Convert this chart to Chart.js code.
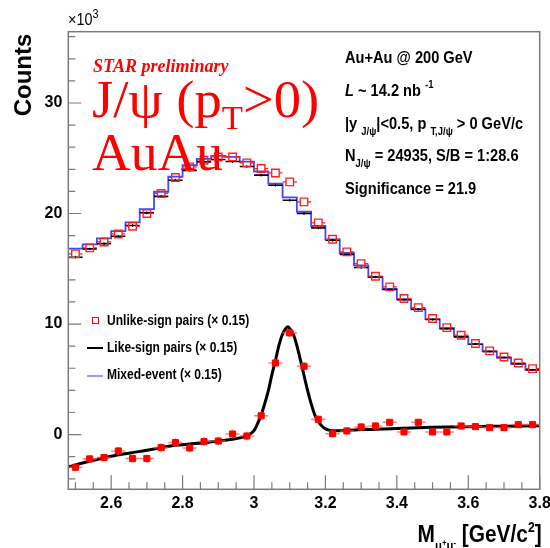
<!DOCTYPE html>
<html><head><meta charset="utf-8">
<script src="https://cdn.jsdelivr.net/npm/chart.js@4.4.1/dist/chart.umd.min.js"></script>
<style>
html,body{margin:0;padding:0;background:#fff;}
#wrap{position:relative;width:550px;height:548px;overflow:hidden;background:#fff;}
canvas{position:absolute;left:0;top:0;}
.t{position:absolute;white-space:nowrap;line-height:1;}
.hb{font-family:'Liberation Sans',Arial,sans-serif;font-weight:bold;color:#000;}
.hr{font-family:'Liberation Sans',Arial,sans-serif;color:#000;}
.tr{font-family:'Liberation Serif','Times New Roman',serif;color:#ff0000;}
.n{transform:scaleX(0.86);transform-origin:left top;}
.sb{font-size:11px;position:relative;top:6px;}
.sp{font-size:11px;position:relative;top:-8px;}
.lg{position:absolute;}
</style></head>
<body><div id="wrap"><canvas id="c" width="550" height="548"></canvas>

<div class="t hr" style="left:68px;top:12px;font-size:16px;transform:scaleX(0.9);transform-origin:left top">&#215;10<span style="font-size:12px;position:relative;top:-7px">3</span></div>
<div class="t" style="left:23px;top:75px;transform:translate(-50%,-50%) rotate(-90deg);font-family:'Liberation Sans',Arial,sans-serif;font-weight:bold;font-size:24px;color:#000">Counts</div>
<div class="t hb" style="right:8px;top:522px;font-size:24px;transform:scaleX(0.87);transform-origin:right top">M<span style="font-size:13px;position:relative;top:8px">&#956;<span style="font-size:9px;position:relative;top:-4px">+</span>&#956;<span style="font-size:9px;position:relative;top:-4px">-</span></span> [GeV/c<span style="font-size:14px;position:relative;top:-10px">2</span>]</div>

<div class="t tr" style="left:93px;top:57px;font-size:18px;font-weight:bold;font-style:italic">STAR preliminary</div>
<div class="t tr" style="left:92px;top:74px;font-size:52px;transform:scaleX(1.05);transform-origin:left top">J/&#968; (p<span style="font-size:33px;position:relative;top:12px">T</span>&gt;0)</div>
<div class="t tr" style="left:92px;top:127px;font-size:52px;transform:scaleX(1.03);transform-origin:left top">AuAu</div>

<div class="t hb n" style="left:345px;top:49px;font-size:17px">Au+Au @ 200 GeV</div>
<div class="t hb n" style="left:345px;top:82px;font-size:17px"><i>L</i> ~ 14.2 nb <span class="sp">-1</span></div>
<div class="t hb n" style="left:345px;top:115px;font-size:17px">|y <span class="sb">J/&#968;</span>|&lt;0.5, p <span class="sb">T,J/&#968;</span> &gt; 0 GeV/c</div>
<div class="t hb n" style="left:345px;top:147px;font-size:17px">N<span class="sb">J/&#968;</span> = 24935, S/B = 1:28.6</div>
<div class="t hb n" style="left:345px;top:180px;font-size:17px">Significance = 21.9</div>

<div class="lg" style="left:92px;top:317px;width:5px;height:5px;border:1.5px solid #ff0000"></div>
<div class="t hb n" style="left:107px;top:313px;font-size:14px">Unlike-sign pairs (&#215; 0.15)</div>
<div class="lg" style="left:87px;top:347px;width:16px;height:1.5px;background:#000"></div>
<div class="t hb n" style="left:107px;top:340px;font-size:14px">Like-sign pairs (&#215; 0.15)</div>
<div class="lg" style="left:87px;top:375px;width:16px;height:2px;background:#9999ff"></div>
<div class="t hb n" style="left:107px;top:367px;font-size:14px">Mixed-event (&#215; 0.15)</div>
</div>
<script>
// ---- data (values in units of 10^3 counts) ----
const binCenters = [2.50,2.54,2.58,2.62,2.66,2.70,2.74,2.78,2.82,2.86,2.90,2.94,2.98,3.02,3.06,3.10,3.14,3.18,3.22,3.26,3.30,3.34,3.38,3.42,3.46,3.50,3.54,3.58,3.62,3.66,3.70,3.74,3.78];
const binHalfWidth = 0.02;
const unlikeSign = [16.35,16.89,17.43,18.15,18.85,20.0,21.81,23.26,24.22,24.82,25.12,25.12,24.58,24.07,23.67,22.86,21.05,19.15,17.67,16.53,15.47,14.33,13.36,12.31,11.49,10.5,9.68,8.99,8.24,7.57,7.02,6.48,5.97];
const likeSign = [16.05,16.8,17.28,17.95,18.91,20.06,21.55,23.01,23.9,24.67,24.89,24.7,24.25,23.47,22.56,21.2,20.0,18.7,17.58,16.29,15.11,14.26,13.12,12.21,11.34,10.41,9.59,8.84,8.2,7.52,6.97,6.42,5.86];
const likeSignErr = [0.12,0.12,0.12,0.12,0.12,0.13,0.13,0.13,0.13,0.13,0.13,0.13,0.13,0.13,0.13,0.13,0.13,0.12,0.12,0.12,0.12,0.11,0.11,0.11,0.11,0.1,0.1,0.1,0.1,0.09,0.09,0.09,0.09];
const mixedEvent = [16.83,17.2,17.76,18.4,19.2,20.4,21.97,23.33,24.38,24.95,25.21,25.12,24.7,23.8,22.7,21.47,20.16,18.87,17.66,16.43,15.3,14.24,13.17,12.24,11.33,10.44,9.62,8.88,8.18,7.52,6.97,6.4,5.86];
const signal = [-2.96,-2.2,-2.08,-1.48,-2.17,-2.17,-1.18,-0.72,-1.21,-0.63,-0.58,0.05,-0.13,1.7,6.48,9.2,6.18,1.38,0.08,0.33,0.69,0.78,1.11,0.24,1.11,0.24,0.24,0.78,0.72,0.63,0.63,0.9,0.9];
const signalErr = [0.35,0.35,0.35,0.36,0.36,0.37,0.38,0.38,0.39,0.39,0.39,0.39,0.39,0.39,0.38,0.38,0.37,0.36,0.35,0.35,0.34,0.33,0.32,0.31,0.3,0.3,0.29,0.28,0.27,0.27,0.26,0.25,0.25];
const fitX = [2.48,2.52,2.56,2.60,2.65,2.70,2.74,2.78,2.82,2.86,2.90,2.94,2.96,2.98,3.00,3.01,3.02,3.03,3.04,3.05,3.06,3.07,3.08,3.09,3.095,3.10,3.11,3.12,3.13,3.14,3.15,3.16,3.17,3.18,3.19,3.20,3.21,3.22,3.26,3.30,3.40,3.50,3.60,3.70,3.80];
const fitY = [-2.93,-2.57,-2.25,-1.96,-1.68,-1.42,-1.18,-0.97,-0.85,-0.73,-0.58,-0.43,-0.3,-0.1,0.35,1.0,1.75,2.8,3.95,5.4,6.7,8.1,9.1,9.65,9.75,9.6,9.1,8.05,6.75,5.35,4.0,2.8,1.8,1.2,0.78,0.52,0.4,0.35,0.38,0.45,0.55,0.66,0.72,0.76,0.8];
const xTickValues = [2.6,2.8,3.0,3.2,3.4,3.6,3.8];
const xTickLabels = ['2.6','2.8','3','3.2','3.4','3.6','3.8'];
const yTickValues = [0,10,20,30];
const yTickLabels = ['0','10','20','30'];
const xRange = [2.48, 3.80];
const yRange = [-4.95, 36.45];

// ---- helpers building library tables ----
const toPoints = (vals) => binCenters.map((c,i)=>({x:c, y:vals[i]}));
const toSteps = (vals) => { const p=[]; binCenters.forEach((c,i)=>{ p.push({x:c-binHalfWidth,y:vals[i]}); p.push({x:c+binHalfWidth,y:vals[i]}); }); return p; };
const halfBinPx = (ctx) => { const s = ctx.chart.scales && ctx.chart.scales.x; if(!s) return 7; return Math.abs(s.getPixelForValue(binCenters[0]+binHalfWidth)-s.getPixelForValue(binCenters[0]-binHalfWidth))/2; };

const FONT = "'Liberation Sans',Arial,sans-serif";

const errorBars = {
  id:'errorBars',
  beforeDatasetDraw(chart, args){
    const ds = chart.data.datasets[args.index];
    if(!ds.errX && !ds.errY) return;
    const {ctx, chartArea:a, scales:{x,y}} = chart;
    ctx.save();
    ctx.beginPath(); ctx.rect(a.left,a.top,a.right-a.left,a.bottom-a.top); ctx.clip();
    ctx.strokeStyle = ds.errColor; ctx.lineWidth = ds.errWidth || 1;
    const gap = ds.errGap || 0;
    ds.data.forEach((d,i)=>{
      const px = x.getPixelForValue(d.x), py = y.getPixelForValue(d.y);
      ctx.beginPath();
      if(ds.errX){
        const l = x.getPixelForValue(d.x-ds.errX), r = x.getPixelForValue(d.x+ds.errX);
        ctx.moveTo(l,py); ctx.lineTo(px-gap,py); ctx.moveTo(px+gap,py); ctx.lineTo(r,py);
      }
      if(ds.errY){
        const t = y.getPixelForValue(d.y+ds.errY[i]), b = y.getPixelForValue(d.y-ds.errY[i]);
        ctx.moveTo(px,t); ctx.lineTo(px,b);
      }
      ctx.stroke();
    });
    ctx.restore();
  }
};

const frameTicks = {
  id:'frameTicks',
  afterDatasetsDraw(chart){
    const {ctx, chartArea:a, scales:{x,y}} = chart;
    ctx.save();
    ctx.strokeStyle = '#7a7a7a'; ctx.lineWidth = 1.5;
    ctx.strokeRect(a.left,a.top,a.right-a.left,a.bottom-a.top);
    ctx.lineWidth = 1.2;
    ctx.beginPath();
    for(let i=Math.ceil(x.min*20); i<=Math.floor(x.max*20+1e-6); i++){
      const v = i/20, px = x.getPixelForValue(v);
      const major = (i % 4) === 0;
      ctx.moveTo(px,a.bottom); ctx.lineTo(px,a.bottom-(major?14:7));
    }
    for(let v=Math.ceil(y.min/2)*2; v<=y.max; v+=2){
      const py = y.getPixelForValue(v);
      const major = (v % 10) === 0;
      ctx.moveTo(a.left,py); ctx.lineTo(a.left+(major?13:7),py);
    }
    ctx.stroke();
    ctx.restore();
  }
};

new Chart(document.getElementById('c'), {
  type:'scatter',
  data:{ datasets:[
    { label:'Signal', data:toPoints(signal), order:1,
      pointStyle:'rect', pointRadius:4.3, pointHoverRadius:4.3, pointBackgroundColor:'#ff0000', pointBorderColor:'#ff0000', pointBorderWidth:1,
      errX:binHalfWidth, errY:signalErr, errColor:'rgba(255,90,90,0.75)', errWidth:1.6 },
    { label:'Fit', data:fitX.map((v,i)=>({x:v,y:fitY[i]})), order:2, showLine:true,
      borderColor:'#000', borderWidth:3, pointRadius:0, cubicInterpolationMode:'monotone', fill:false },
    { label:'Unlike-sign pairs (\u00d7 0.15)', data:toPoints(unlikeSign), order:3,
      pointStyle:'rect', pointRadius:5.3, pointHoverRadius:5.3, pointBackgroundColor:'rgba(0,0,0,0)', pointBorderColor:'#ff2020', pointBorderWidth:1.4,
      errX:binHalfWidth, errGap:3.8, errColor:'#ff2020', errWidth:1.2 },
    { label:'Like-sign pairs (\u00d7 0.15)', data:toPoints(likeSign), order:4,
      pointStyle:'line', pointRadius:halfBinPx, pointHoverRadius:halfBinPx, pointBorderColor:'#000', pointBorderWidth:1.6,
      errY:likeSignErr, errColor:'#000', errWidth:1 },
    { label:'Mixed-event (\u00d7 0.15)', data:toSteps(mixedEvent), order:5, showLine:true,
      borderColor:'#4646ff', borderWidth:1.8, pointRadius:0, fill:false, tension:0 }
  ]},
  options:{
    responsive:false, animation:false, devicePixelRatio:1,
    layout:{ padding:{ top:31.7, right:10.3, left:0, bottom:0 } },
    plugins:{ legend:{display:false}, tooltip:{enabled:false} },
    events:[],
    scales:{
      x:{ type:'linear', min:xRange[0], max:xRange[1], position:'bottom',
        grid:{display:false, drawTicks:false}, border:{display:false},
        afterBuildTicks:(s)=>{ s.ticks = xTickValues.map(v=>({value:v})); },
        afterFit:(s)=>{ s.height = 548-489.3; s.paddingLeft=0; s.paddingRight=0; },
        ticks:{ padding:5, color:'#000', autoSkip:false, maxRotation:0, minRotation:0,
          font:{family:FONT, size:16, weight:'bold'},
          callback:(v)=>{ const i = xTickValues.findIndex(t=>Math.abs(t-v)<1e-6); return i>=0 ? xTickLabels[i] : ''; } } },
      y:{ type:'linear', min:yRange[0], max:yRange[1], position:'left',
        grid:{display:false, drawTicks:false}, border:{display:false},
        afterBuildTicks:(s)=>{ s.ticks = yTickValues.map(v=>({value:v})); },
        afterFit:(s)=>{ s.width = 68.3; s.paddingTop=0; s.paddingBottom=0; },
        ticks:{ padding:6, color:'#000', autoSkip:false,
          font:{family:FONT, size:16, weight:'bold'},
          callback:(v)=>{ const i = yTickValues.findIndex(t=>Math.abs(t-v)<1e-6); return i>=0 ? yTickLabels[i] : ''; } } }
    }
  },
  plugins:[errorBars, frameTicks]
});
</script>
</body></html>
